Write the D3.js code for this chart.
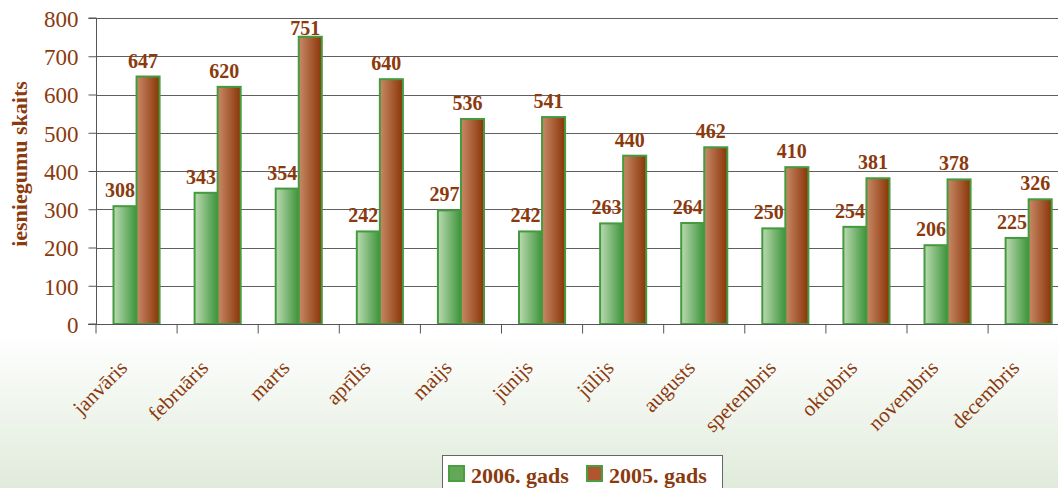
<!DOCTYPE html>
<html><head><meta charset="utf-8">
<script src="https://cdn.jsdelivr.net/npm/d3@7"></script>
<style>html,body{margin:0;padding:0;background:#fff;overflow:hidden}
text{font-family:"Liberation Serif","Times New Roman",Times,serif}</style>
</head><body>
<svg id="c" width="1058" height="488"></svg>
<script>
const months = ["janvāris","februāris","marts","aprīlis","maijs","jūnijs","jūlijs","augusts","spetembris","oktobris","novembris","decembris"];
const series = ["2006. gads","2005. gads"];
const values2006 = [308,343,354,242,297,242,263,264,250,254,206,225];
const values2005 = [647,620,751,640,536,541,440,462,410,381,378,326];
const yTicks = [0,100,200,300,400,500,600,700,800];
const yTitle = "iesniegumu skaits";

const W = 1058, H = 488;
const brown = "#8B3A0E";
const svg = d3.select("#c");
const defs = svg.append("defs");

const bg = defs.append("linearGradient").attr("id","bg").attr("x1",0).attr("y1",0).attr("x2",0).attr("y2",1);
bg.append("stop").attr("offset","0.68").attr("stop-color","#ffffff");
bg.append("stop").attr("offset","1").attr("stop-color","#e0ebdb");
const gg = defs.append("linearGradient").attr("id","gG").attr("x1",0).attr("x2",1).attr("y1",0).attr("y2",0);
gg.append("stop").attr("offset","0").attr("stop-color","#bcdab2");
gg.append("stop").attr("offset","1").attr("stop-color","#3c943a");
const bgr = defs.append("linearGradient").attr("id","gB").attr("x1",0).attr("x2",1).attr("y1",0).attr("y2",0);
bgr.append("stop").attr("offset","0").attr("stop-color","#c88a68");
bgr.append("stop").attr("offset","1").attr("stop-color","#8a3406");

svg.append("rect").attr("width",W).attr("height",H).attr("fill","url(#bg)");

const x0 = 96, step = 81.1;
const x = d3.scaleBand().domain(months).range([x0, x0 + step*months.length]).paddingInner(0).paddingOuter(0);
const xs = d3.scaleBand().domain(series).range([0, x.bandwidth()]).paddingInner(0).paddingOuter(0.76);
const y = d3.scaleLinear().domain([0,800]).range([324,18]);

svg.append("rect").attr("x",x0).attr("y",y(800)).attr("width",W-x0).attr("height",y(0)-y(800)).attr("fill","#fff");

svg.append("g").selectAll("line").data(yTicks.filter(d=>d>0)).join("line")
  .attr("x1",x0).attr("x2",W).attr("y1",d=>Math.round(y(d))+0.5).attr("y2",d=>Math.round(y(d))+0.5)
  .attr("stroke","#5f5f5f").attr("stroke-width",1);

const yAxis = d3.axisLeft(y).tickValues(yTicks).tickSize(8).tickPadding(10);
const ga = svg.append("g").attr("transform",`translate(${x0+0.5},0)`).call(yAxis);
ga.attr("font-family",null).attr("font-size",null);
ga.select(".domain").attr("stroke","#555").attr("d",`M-8,${y(0)}H0V${y(800)}H-8`);
ga.selectAll(".tick line").attr("stroke","#555");
ga.selectAll(".tick text").attr("fill",brown).attr("dy","0.36em").style("font-size","23px");

const data = months.map((m,i)=>({m, vals:[{s:series[0],v:values2006[i],f:"url(#gG)"},{s:series[1],v:values2005[i],f:"url(#gB)"}]}));
const grp = svg.append("g").selectAll("g").data(data).join("g").attr("transform",d=>`translate(${x(d.m)},0)`);
grp.selectAll("rect").data(d=>d.vals).join("rect")
  .attr("x",d=>xs(d.s)).attr("y",d=>y(d.v)).attr("width",xs.bandwidth()).attr("height",d=>y(0)-y(d.v))
  .attr("fill",d=>d.f).attr("stroke","#449a3e").attr("stroke-width",2);
grp.selectAll("text").data(d=>d.vals).join("text")
  .attr("x",d=>xs(d.s)+xs.bandwidth()/2-5).attr("y",d=>Math.max(y(d.v)-9, y(800)+17))
  .attr("text-anchor","middle").attr("fill",brown)
  .style("font-size","20px").style("font-weight","bold")
  .text(d=>d.v);

const xAxisG = svg.append("g").attr("transform",`translate(0,${y(0)+0.5})`);
xAxisG.append("line").attr("x1",x0-8).attr("x2",W).attr("stroke","#555");
xAxisG.selectAll("line.t").data(d3.range(months.length+1)).join("line").attr("class","t")
  .attr("x1",i=>x0+i*step).attr("x2",i=>x0+i*step).attr("y1",0).attr("y2",9).attr("stroke","#555");
svg.append("g").selectAll("text").data(months).join("text")
  .attr("transform",d=>`translate(${x(d)+x.bandwidth()/2-8},${y(0)+45}) rotate(-45)`)
  .attr("text-anchor","end").attr("fill",brown)
  .style("font-size","21px")
  .text(d=>d);

svg.append("text").attr("transform","translate(27,164) rotate(-90)").attr("text-anchor","middle")
  .attr("fill",brown).style("font-size","22px").style("font-weight","bold").text(yTitle);

const lg = svg.append("g");
lg.append("rect").attr("x",442.5).attr("y",455.5).attr("width",280).attr("height",40).attr("fill","#fff").attr("stroke","#666");
const items = [{s:series[0],c:"#62a857",x:448},{s:series[1],c:"#b0562f",x:586}];
items.forEach(it=>{
  lg.append("rect").attr("x",it.x+1).attr("y",466).attr("width",15).attr("height",15).attr("fill",it.c).attr("stroke","#4a9e40").attr("stroke-width",2);
  lg.append("text").attr("x",it.x+23).attr("y",483).attr("fill",brown)
    .style("font-size","22px").style("font-weight","bold").text(it.s);
});
</script>
</body></html>
